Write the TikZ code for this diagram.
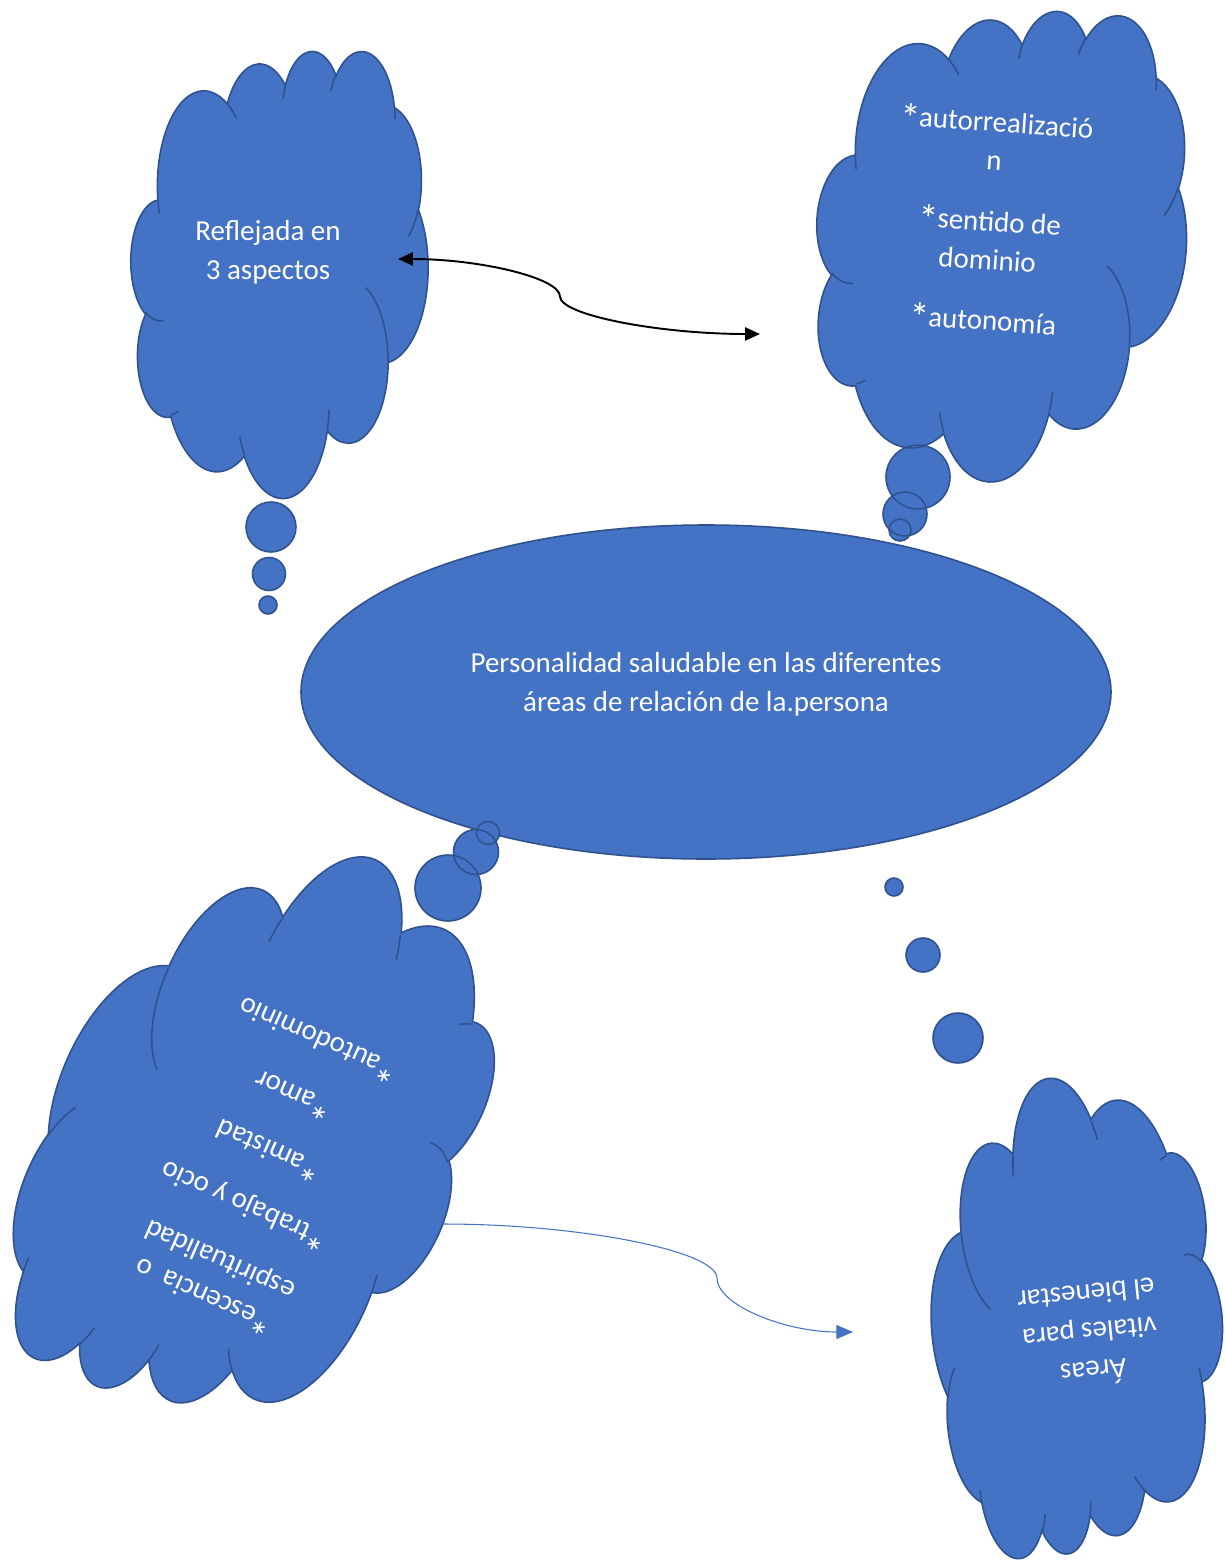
\documentclass[tikz,border=0pt]{standalone}
\usepackage{fontspec}
\setmainfont{Carlito}
\usetikzlibrary{arrows.meta}
\definecolor{cfill}{HTML}{4472C4}
\definecolor{cline}{HTML}{2F528F}
\newcommand{\bigast}{\smash{\raisebox{-3.5pt}{\fontsize{23}{22}\selectfont *}}\kern-0.8pt}
\tikzset{
  oarc/.style n args={4}{insert path={arc[
     start angle={atan2((#1)*sin(#3),(#2)*cos(#3))},
     delta angle={mod(atan2((#1)*sin((#3)+(#4)),(#2)*cos((#3)+(#4)))-atan2((#1)*sin(#3),(#2)*cos(#3))+720,360)},
     x radius={(#1)/432}, y radius={(#2)/432}]}},
  cloudfill/.style={fill=cfill},
  cloudline/.style={draw=cline, line width=0.9pt},
  txt/.style={text=white, font=\fontsize{16.5}{22}\selectfont, align=center, inner sep=0pt},
  blkarrow/.style={draw=black, line width=1.1pt, {Triangle[length=8.5pt,width=7.5pt]}-{Triangle[length=8.5pt,width=7.5pt]}},
  bluearrow/.style={draw=cfill, line width=0.6pt, -{Triangle[length=9.5pt,width=8pt]}},
}
\newcommand{\cloudmain}{(9.0278,33.2639)
 [oarc={6753}{9190}{-190.4875}{123.7805}]
 [oarc={5333}{7267}{-144.1024}{89.9452}]
 [oarc={4365}{5945}{-145.8079}{99.7230}]
 [oarc={4857}{6595}{-130.9861}{117.2417}]
 [oarc={5333}{7273}{-78.7089}{109.0269}]
 [oarc={6775}{9220}{-46.2673}{130.2690}]
 [oarc={5785}{7867}{0.6250}{114.0333}]
 [oarc={6752}{9215}{22.4516}{115.1726}]
 [oarc={7720}{10543}{66.2426}{75.7110}]
 [oarc={4360}{5918}{-274.9421}{146.7356}]
 [oarc={4345}{5945}{-246.8285}{152.5189}] -- cycle}
\newcommand{\cloudinner}{
 (10.8634,60.5949) [oarc={4345}{5945}{86.7420}{26.4295}]
 (16.0370,80.7847) [oarc={4360}{5918}{73.6105}{11.4475}]
 (38.1435,90.4861) [oarc={6752}{9215}{137.6242}{14.0811}]
 (66.7292,80.4421) [oarc={6752}{9215}{6.4533}{15.9984}]
 (79.0023,53.1343) [oarc={5785}{7867}{-70.2924}{70.9174}]
 (96.7546,35.5417) [oarc={5333}{7273}{30.3180}{27.7515}]
 (88.7130,12.5602) [oarc={4857}{6595}{-13.7443}{14.8589}]
 (67.3102,9.1481) [oarc={4857}{6595}{-149.1815}{18.1954}]
 (51.2523,10.9259) [oarc={4365}{5945}{-163.4943}{17.6864}]
 (32.4074,12.0185) [oarc={6753}{9190}{-66.7070}{12.3194}]
 (9.5532,36.5486) [oarc={6753}{9190}{157.6544}{11.8582}]}
% #1 cx, #2 cy, #3 w, #4 h, #5 rotation, #6 bubbles
\newcommand{\mycloud}[6]{%
  \begin{scope}[shift={(#1,#2)}, rotate=#5, xscale=#3/100, yscale=#4/100, shift={(-50,-50)}]
    \path[cloudfill] \cloudmain;
  \end{scope}
  \path[cloudfill] #6;
  \begin{scope}[shift={(#1,#2)}, rotate=#5, xscale=#3/100, yscale=#4/100, shift={(-50,-50)}]
    \path[cloudline] \cloudmain \cloudinner;
  \end{scope}
  \path[cloudline] #6;
}
\begin{document}
\begin{tikzpicture}[x=0.02cm, y=-0.02cm]
\useasboundingbox (0,0) rectangle (1224,1561);
% central ellipse
\path[cloudfill, cloudline] (706,692) ellipse[x radius=405, y radius=167];
\node[txt] (t0) at (706,684) {Personalidad saludable en las diferentes\\áreas de relación de la.persona};
% clouds
\mycloud{279.5}{273.5}{297}{447}{0}{(271,527) circle[radius=25] (269,574) circle[radius=16.5] (268,605) circle[radius=9]}
\mycloud{1001}{243.5}{370}{474}{-4}{(918,477) circle[radius=32] (905,514) circle[radius=22] (900,530) circle[radius=11]}
\mycloud{258}{1135}{410}{594}{156}{(448,888) circle[radius=33] (476,852) circle[radius=22.5] (488,833) circle[radius=11.5]}
\mycloud{1076}{1316}{290}{475}{185.7}{(894,887) circle[radius=9] (923,955) circle[radius=17] (958,1038) circle[radius=25]}
% texts
\node[txt] (t1) at (268,252) {Reflejada en\\3 aspectos};
\node[txt, rotate=-4] (t2) at (990,221) {\bigast autorrealizació\\n\\[12.5pt]\bigast sentido de\\dominio\\[12.5pt]\bigast autonomía};
\node[txt, rotate=156] (t3) at (261,1168) {\bigast escencia\ \ o\\espiritualidad\\[12.5pt]\bigast trabajo y ocio\\[12.5pt]\bigast amistad\\[12.5pt]\bigast amor\\[12.5pt]\bigast autodominio};
\node[txt, rotate=185.7] (t4) at (1090,1335) {Áreas\\vitales para\\el bienestar};
% connectors
\coordinate (a1s) at (398,259);
\coordinate (a1e) at (760,334);
\draw[blkarrow] (a1s) .. controls (479,259) and (560,277.75) .. (560,296.5) .. controls (560,315.25) and (660,334) .. (a1e);
\coordinate (a2s) at (443,1224);
\coordinate (a2e) at (853,1332);
\draw[bluearrow] (a2s) .. controls (580,1224) and (717,1251) .. (717,1278) .. controls (717,1305) and (785,1332) .. (a2e);
\end{tikzpicture}
\end{document}
